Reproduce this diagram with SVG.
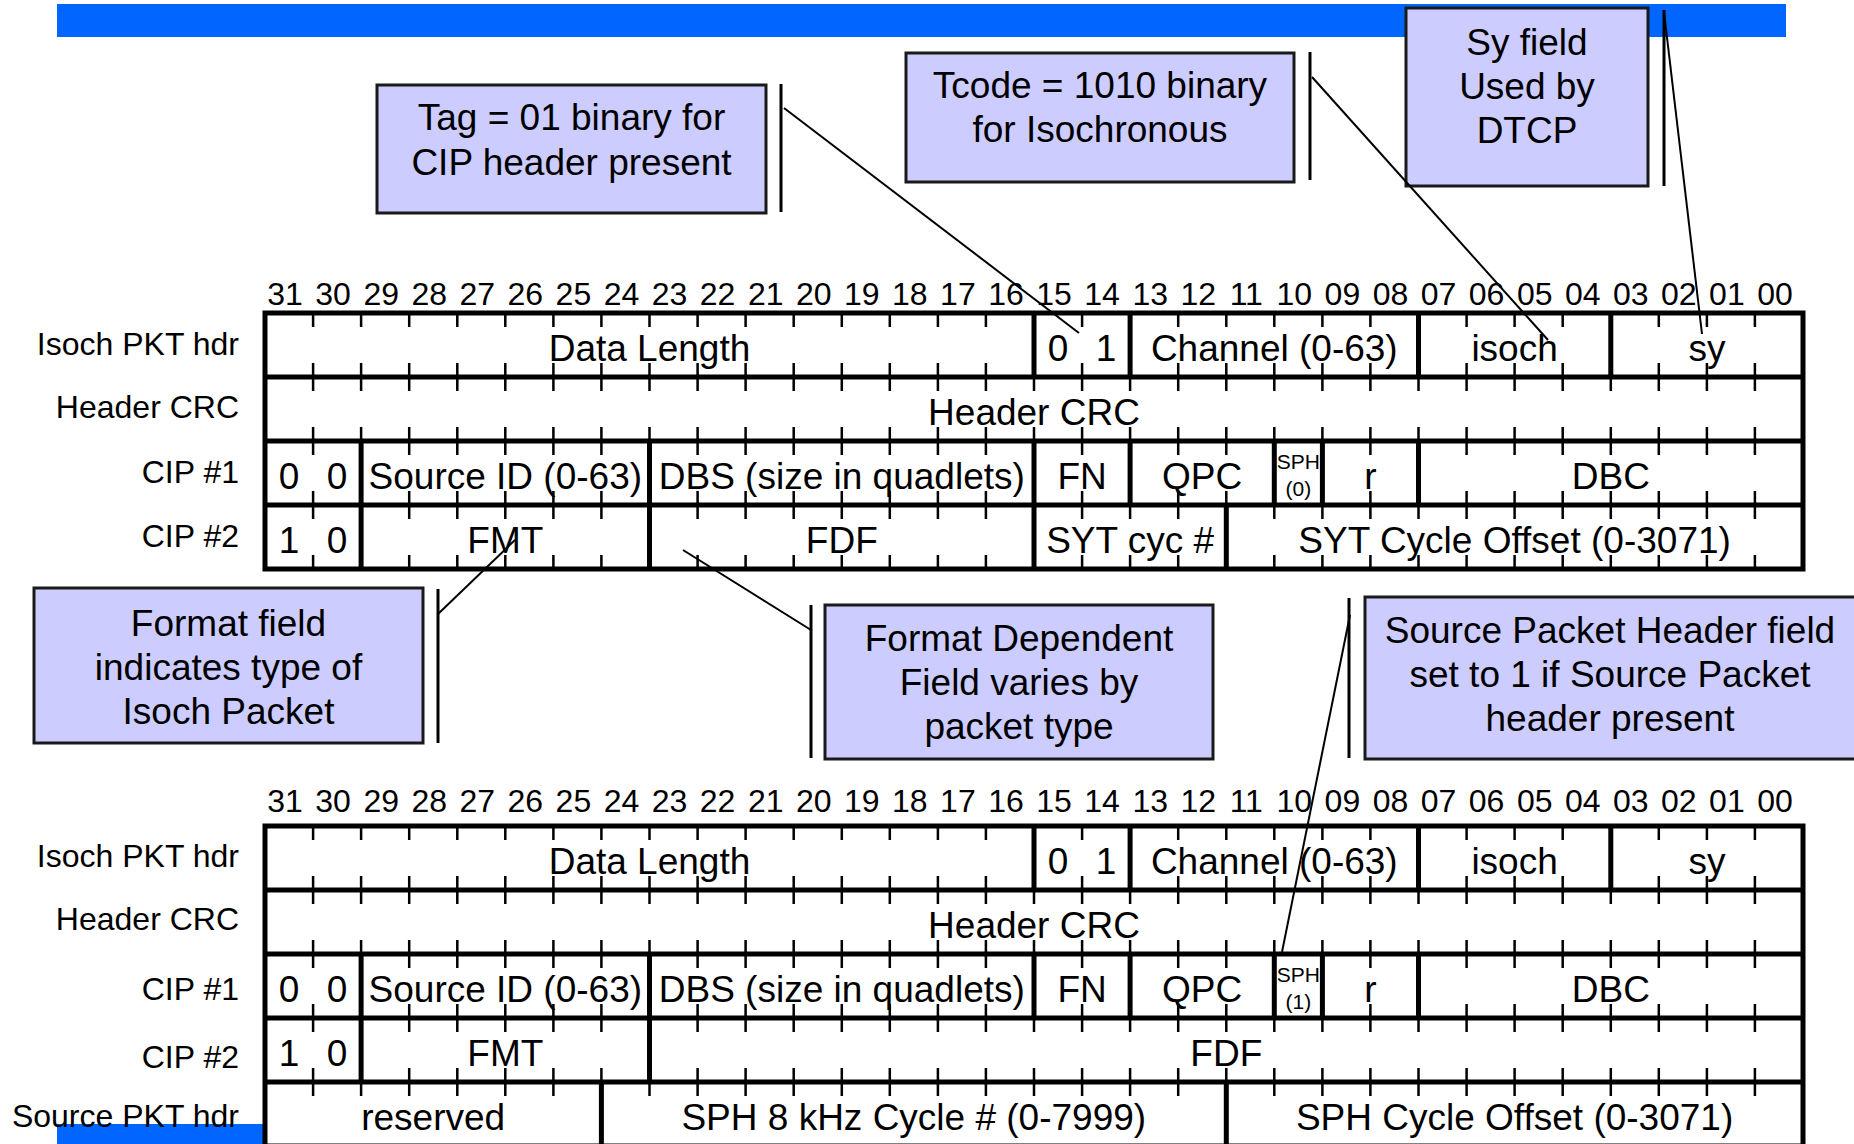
<svg xmlns="http://www.w3.org/2000/svg" width="1854" height="1144" viewBox="0 0 1854 1144">
<style>
text { font-family: "Liberation Sans", Arial, sans-serif; fill: #000; }
.cell { font-size: 37px; text-anchor: middle; }
.lbl { font-size: 32px; text-anchor: end; }
.num { font-size: 32px; text-anchor: middle; }
.call { font-size: 37px; text-anchor: middle; }
.sph { font-size: 21px; text-anchor: middle; }
.box { fill: #ccccff; stroke: #1a1a1a; stroke-width: 3; }
.bar { fill: #0066ff; }
.frame { fill: #ffffff; stroke: #000; stroke-width: 5; }
.hl { stroke: #000; stroke-width: 5; fill: none; }
.tick { stroke: #000; stroke-width: 2.5; fill: none; }
.side { stroke: #000; stroke-width: 3; }
.lead { stroke: #000; stroke-width: 2; fill: none; }
</style>
<defs>
<path id="tkD" class="tick" d="M313.1 0v14M361.1 0v14M409.2 0v14M457.3 0v14M505.3 0v14M553.4 0v14M601.4 0v14M649.5 0v14M697.6 0v14M745.6 0v14M793.7 0v14M841.8 0v14M889.8 0v14M937.9 0v14M985.9 0v14M1034 0v14M1082.1 0v14M1130.1 0v14M1178.2 0v14M1226.3 0v14M1274.3 0v14M1322.4 0v14M1370.4 0v14M1418.5 0v14M1466.6 0v14M1514.6 0v14M1562.7 0v14M1610.8 0v14M1658.8 0v14M1706.9 0v14M1754.9 0v14"/>
<path id="tkX" class="tick" d="M313.1-14v28M361.1-14v28M409.2-14v28M457.3-14v28M505.3-14v28M553.4-14v28M601.4-14v28M649.5-14v28M697.6-14v28M745.6-14v28M793.7-14v28M841.8-14v28M889.8-14v28M937.9-14v28M985.9-14v28M1034-14v28M1082.1-14v28M1130.1-14v28M1178.2-14v28M1226.3-14v28M1274.3-14v28M1322.4-14v28M1370.4-14v28M1418.5-14v28M1466.6-14v28M1514.6-14v28M1562.7-14v28M1610.8-14v28M1658.8-14v28M1706.9-14v28M1754.9-14v28"/>
<path id="tkU" class="tick" d="M313.1-14v14M361.1-14v14M409.2-14v14M457.3-14v14M505.3-14v14M553.4-14v14M601.4-14v14M649.5-14v14M697.6-14v14M745.6-14v14M793.7-14v14M841.8-14v14M889.8-14v14M937.9-14v14M985.9-14v14M1034-14v14M1082.1-14v14M1130.1-14v14M1178.2-14v14M1226.3-14v14M1274.3-14v14M1322.4-14v14M1370.4-14v14M1418.5-14v14M1466.6-14v14M1514.6-14v14M1562.7-14v14M1610.8-14v14M1658.8-14v14M1706.9-14v14M1754.9-14v14"/>
<g id="bitnums" class="num">
<text x="285">31</text><text x="333.1">30</text><text x="381.2">29</text><text x="429.2">28</text>
<text x="477.3">27</text><text x="525.3">26</text><text x="573.4">25</text><text x="621.5">24</text>
<text x="669.5">23</text><text x="717.6">22</text><text x="765.7">21</text><text x="813.7">20</text>
<text x="861.8">19</text><text x="909.8">18</text><text x="957.9">17</text><text x="1006">16</text>
<text x="1054">15</text><text x="1102.1">14</text><text x="1150.2">13</text><text x="1198.2">12</text>
<text x="1246.3">11</text><text x="1294.3">10</text><text x="1342.4">09</text><text x="1390.5">08</text>
<text x="1438.5">07</text><text x="1486.6">06</text><text x="1534.7">05</text><text x="1582.7">04</text>
<text x="1630.8">03</text><text x="1678.8">02</text><text x="1726.9">01</text><text x="1775">00</text>
</g>
</defs>

<g id="banners">
<rect class="bar" x="57" y="4" width="1729" height="33"/>
<rect class="bar" x="57" y="1124" width="210" height="25"/>
</g>

<g id="table1">
<rect class="frame" x="265" y="313" width="1538" height="256"/>
<use href="#tkD" y="313"/>
<use href="#tkX" y="377"/>
<use href="#tkX" y="441"/>
<use href="#tkX" y="505"/>
<use href="#tkU" y="569"/>
<path class="hl" d="M265 377H1803M265 441H1803M265 505H1803"/>
<path class="hl" d="M1034 313V377M1130.1 313V377M1418.5 313V377M1610.8 313V377
M361.1 441V505M649.5 441V505M1034 441V505M1130.1 441V505M1274.3 441V505M1322.4 441V505M1418.5 441V505
M361.1 505V569M649.5 505V569M1034 505V569M1226.3 505V569"/>
<use href="#bitnums" y="305"/>
<g class="lbl">
<text x="239" y="355">Isoch PKT hdr</text>
<text x="239" y="418">Header CRC</text>
<text x="239" y="483">CIP #1</text>
<text x="239" y="547">CIP #2</text>
</g>
<g class="cell">
<text x="649.5" y="360.5">Data Length</text>
<text x="1058" y="360.5">0</text><text x="1106.1" y="360.5">1</text>
<text x="1274.3" y="360.5">Channel (0-63)</text>
<text x="1514.6" y="360.5">isoch</text>
<text x="1706.9" y="360.5">sy</text>
<text x="1034" y="424.5">Header CRC</text>
<text x="289" y="488.5">0</text><text x="337.1" y="488.5">0</text>
<text x="505.3" y="488.5">Source ID (0-63)</text>
<text x="841.8" y="488.5">DBS (size in quadlets)</text>
<text x="1082.1" y="488.5">FN</text>
<text x="1202.2" y="488.5">QPC</text>
<text x="1370.4" y="488.5">r</text>
<text x="1610.8" y="488.5">DBC</text>
<text x="289" y="552.5">1</text><text x="337.1" y="552.5">0</text>
<text x="505.3" y="552.5">FMT</text>
<text x="841.8" y="552.5">FDF</text>
<text x="1130.1" y="552.5">SYT cyc #</text>
<text x="1514.6" y="552.5">SYT Cycle Offset (0-3071)</text>
</g>
<text class="sph" x="1298.3" y="469">SPH</text>
<text class="sph" x="1298.3" y="496">(0)</text>
</g>

<g id="table2">
<rect class="frame" x="265" y="826" width="1538" height="320"/>
<use href="#tkD" y="826"/>
<use href="#tkX" y="890"/>
<use href="#tkX" y="954"/>
<use href="#tkX" y="1018"/>
<use href="#tkX" y="1082"/>
<path class="hl" d="M265 890H1803M265 954H1803M265 1018H1803M265 1082H1803"/>
<path class="hl" d="M1034 826V890M1130.1 826V890M1418.5 826V890M1610.8 826V890
M361.1 954V1018M649.5 954V1018M1034 954V1018M1130.1 954V1018M1274.3 954V1018M1322.4 954V1018M1418.5 954V1018
M361.1 1018V1082M649.5 1018V1082
M601.4 1082V1146M1226.3 1082V1146"/>
<use href="#bitnums" y="812"/>
<g class="lbl">
<text x="239" y="867">Isoch PKT hdr</text>
<text x="239" y="930">Header CRC</text>
<text x="239" y="1000">CIP #1</text>
<text x="239" y="1068">CIP #2</text>
<text x="239" y="1127">Source PKT hdr</text>
</g>
<g class="cell">
<text x="649.5" y="873.5">Data Length</text>
<text x="1058" y="873.5">0</text><text x="1106.1" y="873.5">1</text>
<text x="1274.3" y="873.5">Channel (0-63)</text>
<text x="1514.6" y="873.5">isoch</text>
<text x="1706.9" y="873.5">sy</text>
<text x="1034" y="937.5">Header CRC</text>
<text x="289" y="1001.5">0</text><text x="337.1" y="1001.5">0</text>
<text x="505.3" y="1001.5">Source ID (0-63)</text>
<text x="841.8" y="1001.5">DBS (size in quadlets)</text>
<text x="1082.1" y="1001.5">FN</text>
<text x="1202.2" y="1001.5">QPC</text>
<text x="1370.4" y="1001.5">r</text>
<text x="1610.8" y="1001.5">DBC</text>
<text x="289" y="1065.5">1</text><text x="337.1" y="1065.5">0</text>
<text x="505.3" y="1065.5">FMT</text>
<text x="1226.3" y="1065.5">FDF</text>
<text x="433.2" y="1129.5">reserved</text>
<text x="913.8" y="1129.5">SPH 8 kHz Cycle # (0-7999)</text>
<text x="1514.6" y="1129.5">SPH Cycle Offset (0-3071)</text>
</g>
<text class="sph" x="1298.3" y="982">SPH</text>
<text class="sph" x="1298.3" y="1009">(1)</text>
</g>

<g id="callout-tag">
<rect class="box" x="377" y="85" width="389" height="128"/>
<text class="call" x="571.5" y="130">Tag = 01 binary for</text>
<text class="call" x="571.5" y="175">CIP header present</text>
</g>
<g id="callout-tcode">
<rect class="box" x="906" y="53" width="388" height="129"/>
<text class="call" x="1100" y="98">Tcode = 1010 binary</text>
<text class="call" x="1100" y="142">for Isochronous</text>
</g>
<g id="callout-sy">
<rect class="box" x="1406" y="8" width="242" height="178"/>
<text class="call" x="1527" y="55">Sy field</text>
<text class="call" x="1527" y="99">Used by</text>
<text class="call" x="1527" y="143">DTCP</text>
</g>
<g id="callout-fmt">
<rect class="box" x="34" y="588" width="389" height="155"/>
<text class="call" x="228.5" y="636">Format field</text>
<text class="call" x="228.5" y="680">indicates type of</text>
<text class="call" x="228.5" y="724">Isoch Packet</text>
</g>
<g id="callout-fdf">
<rect class="box" x="825" y="605" width="388" height="154"/>
<text class="call" x="1019" y="651">Format Dependent</text>
<text class="call" x="1019" y="695">Field varies by</text>
<text class="call" x="1019" y="739">packet type</text>
</g>
<g id="callout-sph">
<rect class="box" x="1365" y="597" width="492" height="162"/>
<text class="call" x="1610" y="643">Source Packet Header field</text>
<text class="call" x="1610" y="687">set to 1 if Source Packet</text>
<text class="call" x="1610" y="731">header present</text>
</g>

<g id="connectors">
<line class="side" x1="781" y1="84" x2="781" y2="212"/>
<line class="lead" x1="784" y1="108" x2="1079" y2="333"/>
<line class="side" x1="1310" y1="52" x2="1310" y2="180"/>
<line class="lead" x1="1312" y1="77" x2="1548" y2="340"/>
<line class="side" x1="1664" y1="10" x2="1664" y2="186"/>
<line class="lead" x1="1664" y1="12" x2="1702" y2="334"/>
<line class="side" x1="438" y1="589" x2="438" y2="743"/>
<line class="lead" x1="438" y1="614" x2="515" y2="540"/>
<line class="side" x1="811" y1="605" x2="811" y2="758"/>
<line class="lead" x1="811" y1="630" x2="683" y2="550"/>
<line class="side" x1="1349" y1="598" x2="1349" y2="758"/>
<line class="lead" x1="1350" y1="615" x2="1282" y2="952"/>
</g>
</svg>
